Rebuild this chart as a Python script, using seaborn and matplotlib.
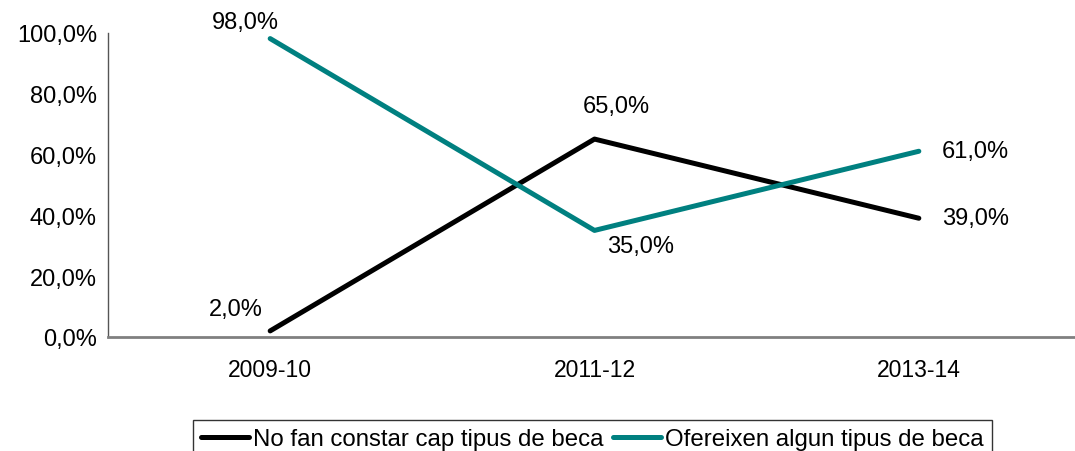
"""
Beques: evolució del percentatge per curs
"""

import matplotlib
matplotlib.use("Agg")
import matplotlib.pyplot as plt
import pandas as pd
import seaborn as sns
from matplotlib.ticker import FuncFormatter, FixedLocator

cursos = ["2009-10", "2011-12", "2013-14"]
no_consta = [2.0, 65.0, 39.0]
ofereixen = [98.0, 35.0, 61.0]
series = ["No fan constar cap tipus de beca", "Ofereixen algun tipus de beca"]
colors = ["#000000", "#008080"]

# desplaçament de les etiquetes (punts)
offsets_no = [(-25, 16), (16, 24), (41, 0)]
offsets_of = [(-18, 12), (33, -11), (41, 0)]

sns.set_theme(style="white", rc={"text.color": "black", "xtick.color": "black",
                                 "ytick.color": "black"})
plt.rcParams["font.family"] = ["Liberation Sans", "DejaVu Sans"]

df = pd.DataFrame({
    "curs": cursos * 2,
    "valor": no_consta + ofereixen,
    "serie": [series[0]] * 3 + [series[1]] * 3,
})

fig = plt.figure(figsize=(10.75, 4.52), dpi=100)
ax = fig.add_axes([108 / 1075, (452 - 338) / 452, (1081 - 108) / 1075, 304.5 / 452])

sns.lineplot(data=df, x="curs", y="valor", hue="serie", palette=colors,
             linewidth=3.6, sort=False, ax=ax, legend=True)

ax.set_xlim(-0.5, 2.5)
ax.set_ylim(0, 100)
ax.set_yticks([0, 20, 40, 60, 80, 100])
ax.yaxis.set_major_formatter(FuncFormatter(lambda v, p: f"{v:.1f}%".replace(".", ",")))
ax.set_xticks([0, 1, 2])
ax.set_xticklabels(cursos)
ax.xaxis.set_minor_locator(FixedLocator([-0.5, 0.5, 1.5, 2.5]))
ax.tick_params(axis="x", which="major", length=0, pad=15, labelsize=16.5, labelcolor="black")
ax.tick_params(axis="x", which="minor", length=5, width=1.2, color="#555555", direction="out")
ax.tick_params(axis="y", length=5, width=1, color="#555555", direction="out", labelsize=17,
               pad=3, labelcolor="black")
ax.set_xlabel("")
ax.set_ylabel("")

for s in ["top", "right"]:
    ax.spines[s].set_visible(False)
ax.spines["bottom"].set_color("#808080")
ax.spines["bottom"].set_linewidth(2)
ax.spines["left"].set_color("#555555")
ax.spines["left"].set_linewidth(1)

for i, (v, off) in enumerate(zip(no_consta, offsets_no)):
    ax.annotate(f"{v:.1f}%".replace(".", ","), (i, v), xytext=off,
                textcoords="offset points", ha="center", va="center", fontsize=17,
                color="black")
for i, (v, off) in enumerate(zip(ofereixen, offsets_of)):
    ax.annotate(f"{v:.1f}%".replace(".", ","), (i, v), xytext=off,
                textcoords="offset points", ha="center", va="center", fontsize=17,
                color="black")

ax.get_legend().remove()
handles, labels = ax.get_legend_handles_labels()
leg = fig.legend(handles, labels, loc="upper center", bbox_to_anchor=(0.551, 1 - 421 / 452),
                 bbox_transform=fig.transFigure, ncol=2, frameon=True, fancybox=False,
                 edgecolor="black", handlelength=2.0, handletextpad=0.15,
                 columnspacing=0.4, borderpad=0.35, borderaxespad=0,
                 prop={"family": ["Liberation Sans", "DejaVu Sans"], "size": 17.3})
leg.get_frame().set_linewidth(1)
for line in leg.get_lines():
    line.set_linewidth(3.6)

fig.savefig("out.png", dpi=100)
